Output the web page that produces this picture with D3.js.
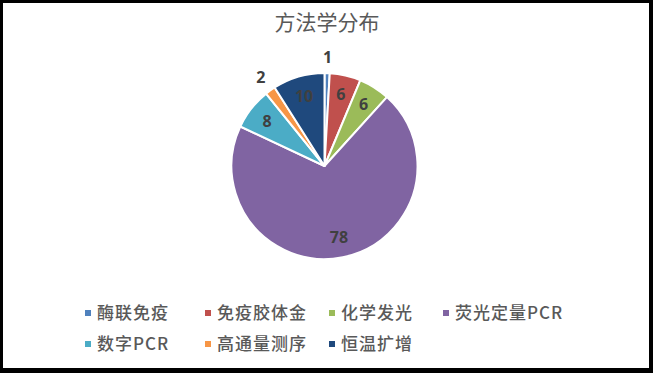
<!DOCTYPE html>
<html lang="zh">
<head>
<meta charset="UTF-8">
<title>方法学分布</title>
<style>
body{margin:0;background:#000;}
svg{display:block;}
</style>
</head>
<body>
<svg id="chart" width="653" height="373"></svg>
<script src="https://cdn.jsdelivr.net/npm/d3@7/dist/d3.min.js"></script>
<script>
var categories=["酶联免疫","免疫胶体金","化学发光","荧光定量PCR","数字PCR","高通量测序","恒温扩增"]
var values=[1,6,6,78,8,2,10]
var colors=["#4F81BD","#C0504D","#9BBB59","#8064A2","#4BACC6","#F79646","#1F497D"]
var outside=[true,false,false,false,false,true,false]

var width=653,height=373
var cx=324.5,cy=166,radius=93
var svg=d3.select('#chart')

// white panel inside the black frame
svg.append('rect').attr('x',3).attr('y',3).attr('width',width-7).attr('height',height-8).attr('fill','#fff')

svg.append('text').attr('x',327).attr('y',30).attr('text-anchor','middle')
    .attr('font-family','"Noto Sans CJK SC", sans-serif').attr('font-size',21).attr('fill','#595959')
    .text('方法学分布')

var data=categories.map((c,i)=>({name:c,value:values[i],color:colors[i],out:outside[i]}))
var pie=d3.pie().sort(null).value(d=>d.value)
var arcs=pie(data)
var arc=d3.arc().innerRadius(0).outerRadius(radius)
var labelIn=d3.arc().innerRadius(73).outerRadius(73)
var labelOut=d3.arc().innerRadius(109).outerRadius(109)

var g=svg.append('g').attr('transform',`translate(${cx},${cy})`)
g.selectAll('path').data(arcs).join('path')
    .attr('d',arc).attr('fill',d=>d.data.color)
    .attr('stroke','#fff').attr('stroke-width',2).attr('stroke-linejoin','round')

g.selectAll('text.lbl').data(arcs).join('text').attr('class','lbl')
    .attr('transform',d=>`translate(${(d.data.out?labelOut:labelIn).centroid(d)})`)
    .attr('text-anchor','middle').attr('dy','0.35em')
    .attr('font-family','"Open Sans", "Noto Sans", sans-serif').attr('font-weight','bold')
    .attr('font-size',16).attr('fill','#404040')
    .text(d=>d.data.value)

// legend
var legX=[85,205,329,443],legY=[313,344]
var leg=svg.append('g').selectAll('g').data(data).join('g')
    .attr('transform',(d,i)=>`translate(${legX[i%4]},${legY[Math.floor(i/4)]})`)
leg.append('rect').attr('x',0).attr('y',-3).attr('width',6).attr('height',6).attr('fill',d=>d.color)
leg.append('text').attr('x',12).attr('dy','0.35em')
    .attr('font-family','"Noto Sans CJK SC", sans-serif').attr('font-size',17).attr('font-weight',500)
    .attr('fill','#595959').attr('letter-spacing',1)
    .text(d=>d.name)
</script>
</body>
</html>
